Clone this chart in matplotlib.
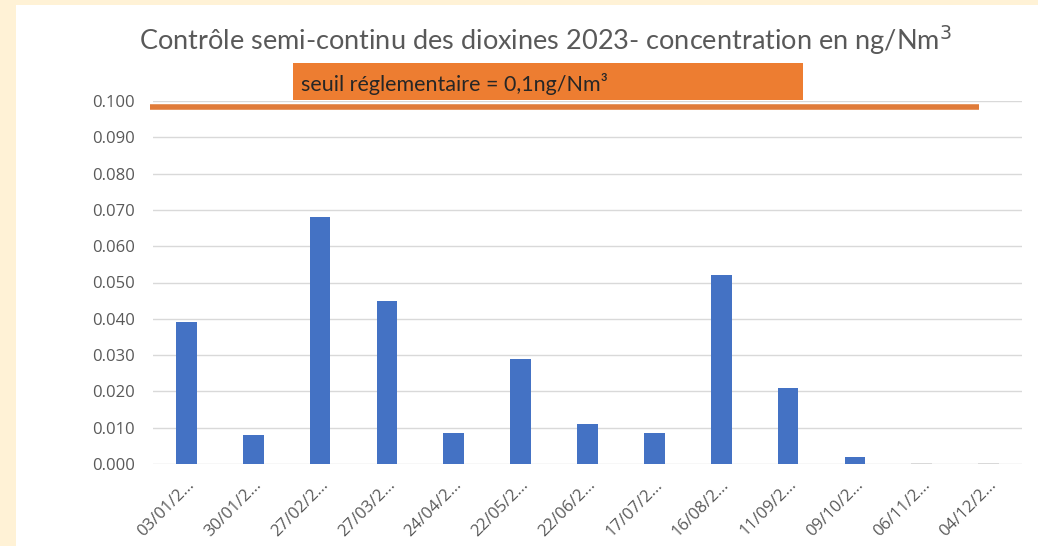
import numpy as np
import matplotlib
matplotlib.use("Agg")
import matplotlib.pyplot as plt
from matplotlib.patches import Rectangle

# sampling dates (labels are truncated like in the original chart)
dates = ["03/01/2...", "30/01/2...", "27/02/2...", "27/03/2...", "24/04/2...",
         "22/05/2...", "22/06/2...", "17/07/2...", "16/08/2...", "11/09/2...",
         "09/10/2...", "06/11/2...", "04/12/2..."]
# concentrations in ng/Nm3
conc = [0.039, 0.008, 0.068, 0.045, 0.0085, 0.029, 0.011, 0.0085,
        0.052, 0.021, 0.002, 0.0004, 0.0003]
bar_colors = ["#4472C4"] * 11 + ["#D9D9D9", "#D9D9D9"]
yticks = [0.0, 0.01, 0.02, 0.03, 0.04, 0.05, 0.06, 0.07, 0.08, 0.09, 0.1]
seuil_line = 0.0983  # drawn threshold bar (sits just under the 0.100 grid line)
seuil_label = "seuil réglementaire = 0,1ng/Nm³"

plt.rcParams["font.family"] = ["Open Sans", "DejaVu Sans"]

fig = plt.figure(figsize=(10.38, 5.46), dpi=100, facecolor="#FFF2D6")
# white slide area
fig.patches.append(Rectangle((16 / 1038, 0), 1, 1 - 5 / 546, transform=fig.transFigure,
                             facecolor="white", edgecolor="none", zorder=-10))

ax = fig.add_axes([153 / 1038, 1 - 464 / 546, 869 / 1038, 363 / 546])
ax.set_facecolor("none")
x = np.arange(len(dates))
ax.bar(x, conc, width=0.31, color=bar_colors, zorder=3)

ax.set_xlim(-0.5, len(dates) - 0.5)
ax.set_ylim(0, 0.1)
ax.set_yticks(yticks)
ax.set_yticklabels([f"{v:.3f}" for v in yticks])
ax.set_xticks(x)
ax.set_xticklabels(dates, rotation=45, ha="right", rotation_mode="anchor")
ax.tick_params(length=0, colors="#595959", labelsize=12)
ax.tick_params(axis="x", pad=9)
ax.tick_params(axis="y", pad=13)
ax.grid(axis="y", color="#D9D9D9", linewidth=1, zorder=0)
for s in ax.spines.values():
    s.set_visible(False)

# threshold line (hand drawn shape in the original)
ax.plot([-0.545, 11.85], [seuil_line, seuil_line], color="#E07B39",
        linewidth=4, solid_capstyle="butt", clip_on=False, zorder=4)

# orange label box
fig.patches.append(Rectangle((293 / 1038, 1 - 100 / 546), 510 / 1038, 37 / 546,
                             transform=fig.transFigure, facecolor="#ED7D31",
                             edgecolor="none", zorder=5))
fig.text(301 / 1038, 1 - 84 / 546, seuil_label, fontsize=15.5, color="#262626",
         va="center", ha="left", family=["Lato", "DejaVu Sans"], zorder=6)

fig.text(545 / 1038, 1 - 40 / 546,
         "Contrôle semi-continu des dioxines 2023- concentration en ng/Nm$^3$",
         fontsize=19.5, color="#595959", ha="center", va="center",
         family=["Lato", "DejaVu Sans"])

fig.savefig("out.png", dpi=100, facecolor=fig.get_facecolor())
